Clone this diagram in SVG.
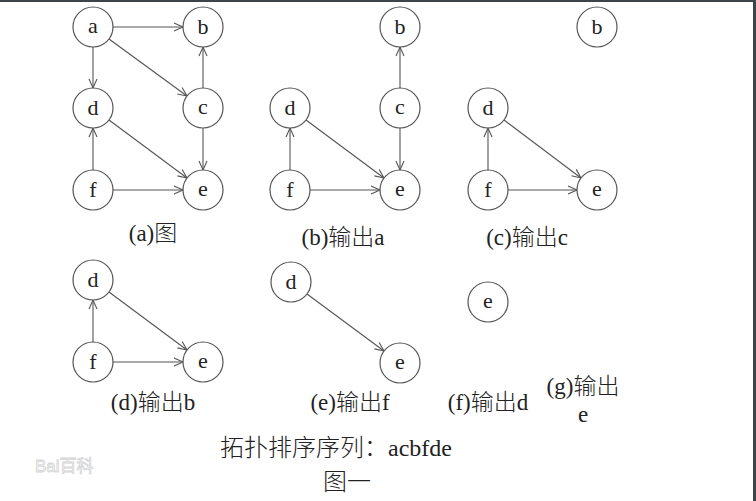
<svg xmlns="http://www.w3.org/2000/svg" width="756" height="501" viewBox="0 0 756 501">
<style>
.n circle{fill:#fff;stroke:#555;stroke-width:1.2}
.n text{font-family:"Liberation Serif",serif;font-size:22px;fill:#222;text-anchor:middle}
.lab{font-family:"Liberation Serif","Noto Sans CJK SC",serif;font-size:23px;fill:#222;text-anchor:middle}
.big{font-size:24px}
.l{font-family:"Liberation Serif",serif}
.c{font-family:"Noto Sans CJK SC",sans-serif;font-weight:300}
.e line{stroke:#555;stroke-width:1.1;marker-end:url(#ah)}
.wm{font-family:"Liberation Sans","Noto Sans CJK SC",sans-serif;font-size:17px;fill:none;stroke:#d4d4d4;stroke-width:0.8}
</style>
<defs>
<marker id="ah" markerUnits="userSpaceOnUse" markerWidth="12" markerHeight="12" refX="9" refY="4" orient="auto" overflow="visible">
<path d="M0,0 L9,4 L0,8" fill="none" stroke="#555" stroke-width="1.1"/>
</marker>
</defs>
<rect x="0" y="0" width="756" height="501" fill="#fff"/>
<rect x="0" y="0" width="756" height="2" fill="#3d434b"/>
<rect x="753" y="0" width="3" height="501" fill="#3d434b"/>

<g id="connectors" class="e">
<line x1="113" y1="27" x2="183" y2="27"/>
<line x1="93" y1="47" x2="93" y2="88"/>
<line x1="109" y1="39" x2="187" y2="96"/>
<line x1="203" y1="88" x2="203" y2="47"/>
<line x1="203" y1="128" x2="203" y2="170"/>
<line x1="109" y1="120" x2="187" y2="178"/>
<line x1="93" y1="170" x2="93" y2="128"/>
<line x1="113" y1="190" x2="183" y2="190"/>

<line x1="400" y1="88" x2="400" y2="47"/>
<line x1="400" y1="128" x2="400" y2="170"/>
<line x1="306" y1="120" x2="384" y2="178"/>
<line x1="290" y1="170" x2="290" y2="128"/>
<line x1="310" y1="190" x2="380" y2="190"/>

<line x1="504" y1="120" x2="581" y2="178"/>
<line x1="488" y1="170" x2="488" y2="128"/>
<line x1="508" y1="190" x2="577" y2="190"/>

<line x1="109" y1="292" x2="187" y2="350"/>
<line x1="93" y1="342" x2="93" y2="300"/>
<line x1="113" y1="362" x2="183" y2="362"/>

<line x1="307" y1="294" x2="384" y2="351"/>
</g>

<g id="ga-a" class="n"><circle cx="93" cy="27" r="20"/><text x="93" y="33">a</text></g>
<g id="ga-b" class="n"><circle cx="203" cy="27" r="20"/><text x="203" y="34">b</text></g>
<g id="ga-d" class="n"><circle cx="93" cy="108" r="20"/><text x="93" y="115">d</text></g>
<g id="ga-c" class="n"><circle cx="203" cy="108" r="20"/><text x="203" y="114">c</text></g>
<g id="ga-f" class="n"><circle cx="93" cy="190" r="20"/><text x="93" y="197">f</text></g>
<g id="ga-e" class="n"><circle cx="203" cy="190" r="20"/><text x="203" y="196">e</text></g>

<g id="gb-b" class="n"><circle cx="400" cy="27" r="20"/><text x="400" y="34">b</text></g>
<g id="gb-d" class="n"><circle cx="290" cy="108" r="20"/><text x="290" y="115">d</text></g>
<g id="gb-c" class="n"><circle cx="400" cy="108" r="20"/><text x="400" y="114">c</text></g>
<g id="gb-f" class="n"><circle cx="290" cy="190" r="20"/><text x="290" y="197">f</text></g>
<g id="gb-e" class="n"><circle cx="400" cy="190" r="20"/><text x="400" y="196">e</text></g>

<g id="gc-b" class="n"><circle cx="597" cy="27" r="20"/><text x="597" y="34">b</text></g>
<g id="gc-d" class="n"><circle cx="488" cy="108" r="20"/><text x="488" y="115">d</text></g>
<g id="gc-f" class="n"><circle cx="488" cy="190" r="20"/><text x="488" y="197">f</text></g>
<g id="gc-e" class="n"><circle cx="597" cy="190" r="20"/><text x="597" y="196">e</text></g>

<g id="gd-d" class="n"><circle cx="93" cy="280" r="20"/><text x="93" y="287">d</text></g>
<g id="gd-f" class="n"><circle cx="93" cy="362" r="20"/><text x="93" y="369">f</text></g>
<g id="gd-e" class="n"><circle cx="203" cy="362" r="20"/><text x="203" y="368">e</text></g>

<g id="ge-d" class="n"><circle cx="291" cy="282" r="20"/><text x="291" y="289">d</text></g>
<g id="ge-e" class="n"><circle cx="400" cy="363" r="20"/><text x="400" y="369">e</text></g>

<g id="gf-e" class="n"><circle cx="488" cy="302" r="20"/><text x="488" y="308">e</text></g>

<g id="labels">
<text class="lab" x="153" y="241"><tspan class="l">(a)</tspan><tspan class="c">图</tspan></text>
<text class="lab" x="343" y="245"><tspan class="l">(b)</tspan><tspan class="c">输出</tspan><tspan class="l">a</tspan></text>
<text class="lab" x="527" y="245"><tspan class="l">(c)</tspan><tspan class="c">输出</tspan><tspan class="l">c</tspan></text>
<text class="lab" x="153" y="410"><tspan class="l">(d)</tspan><tspan class="c">输出</tspan><tspan class="l">b</tspan></text>
<text class="lab" x="350" y="410"><tspan class="l">(e)</tspan><tspan class="c">输出</tspan><tspan class="l">f</tspan></text>
<text class="lab" x="488" y="410"><tspan class="l">(f)</tspan><tspan class="c">输出</tspan><tspan class="l">d</tspan></text>
<text class="lab" x="583" y="394"><tspan class="l">(g)</tspan><tspan class="c">输出</tspan></text>
<text class="lab l" x="583" y="422">e</text>
<text class="lab big" x="336" y="456"><tspan class="c">拓扑排序序列：</tspan><tspan class="l">acbfde</tspan></text>
<text class="lab big c" x="347" y="490">图一</text>
<text class="wm" x="35" y="472" text-anchor="start">Bai百科</text>
</g>
</svg>
